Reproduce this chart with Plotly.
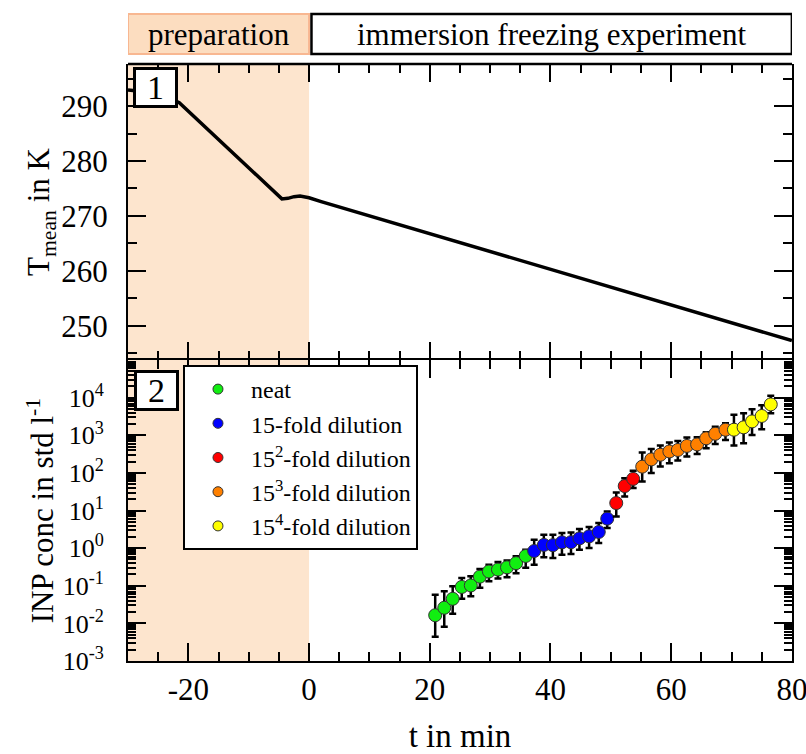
import plotly.graph_objects as go

# ---------------- data ----------------
t_temp = [-30, -28, -26, -24, -22.5, -21.5, -18, -14, -10, -7, -4.5, -3.5, -2.5,
          -1.5, -0.5, 0, 2, 10, 20, 30, 40, 50, 60, 70, 80]
T_mean = [292.9, 292.7, 292.3, 291.7, 291.1, 290.6, 287.0, 282.9, 278.8, 275.7,
          273.1, 273.2, 273.5, 273.6, 273.4, 273.3, 272.6, 270.0, 266.8, 263.5,
          260.3, 257.0, 253.8, 250.5, 247.3]

series_names = ["neat", "15-fold dilution", "15<sup>2</sup>-fold dilution",
                "15<sup>3</sup>-fold dilution", "15<sup>4</sup>-fold dilution"]
series_colors = ["#11ee11", "#0000ff", "#ff0000", "#ff8000", "#ffff00"]

t_neat = [20.9, 22.4, 23.8, 25.3, 26.8, 28.3, 29.8, 31.3, 32.8, 34.3, 35.9]
c_neat = [0.0165, 0.026, 0.045, 0.093, 0.102, 0.175, 0.24, 0.27, 0.31, 0.40, 0.62]
hi_neat = [0.058, 0.071, 0.097, 0.162, 0.179, 0.28, 0.365, 0.43, 0.47, 0.61, 0.91]
lo_neat = [0.0044, 0.0081, 0.018, 0.045, 0.053, 0.088, 0.132, 0.155, 0.168, 0.215, 0.30]

t_d1 = [37.3, 38.9, 40.4, 41.9, 43.4, 44.8, 46.4, 48.0, 49.4]
c_d1 = [0.84, 1.22, 1.2, 1.43, 1.44, 1.82, 2.06, 2.69, 6.1]
hi_d1 = [1.68, 2.28, 2.28, 2.53, 2.62, 3.23, 3.65, 4.66, 9.5]
lo_d1 = [0.365, 0.57, 0.55, 0.67, 0.70, 0.91, 1.01, 1.37, 3.44]

t_d2 = [50.9, 52.3, 53.7]
c_d2 = [15.8, 44.8, 69.5]
hi_d2 = [30.2, 72.8, 114]
lo_d2 = [7.0, 23.7, 39.5]

t_d3 = [55.2, 56.7, 58.2, 59.7, 61.1, 62.6, 64.3, 65.8, 67.3, 69.0]
c_d3 = [147, 229, 305, 373, 408, 523, 574, 834, 1100, 1410]
hi_d3 = [347, 436, 533, 640, 710, 870, 890, 1210, 1700, 2100]
lo_d3 = [59, 99, 148, 182, 214, 272, 321, 455, 590, 755]

t_d4 = [70.4, 72.0, 73.4, 75.0, 76.5]
c_d4 = [1410, 1630, 2350, 3270, 6650]
hi_d4 = [3500, 3860, 4920, 6260, 11300]
lo_d4 = [533, 617, 1025, 1450, 3860]

x_tickvals = [-20, 0, 20, 40, 60, 80]
x_ticktext = ["-20", "0", "20", "40", "60", "80"]
log_tickvals = [1e-3, 1e-2, 1e-1, 1e0, 1e1, 1e2, 1e3, 1e4]
log_ticktext = ["10<sup>-3</sup>", "10<sup>-2</sup>", "10<sup>-1</sup>", "10<sup>0</sup>",
                "10<sup>1</sup>", "10<sup>2</sup>", "10<sup>3</sup>", "10<sup>4</sup>"]

# ---------------- figure ----------------
FONT = "Liberation Serif"
SPLIT = 0.504
XRANGE = [-30, 80.02]
fig = go.Figure()

fig.add_trace(go.Scatter(x=t_temp, y=T_mean, mode="lines", xaxis="x", yaxis="y",
                         line=dict(color="black", width=3.5), showlegend=False))

groups = [(t_neat, c_neat, hi_neat, lo_neat), (t_d1, c_d1, hi_d1, lo_d1),
          (t_d2, c_d2, hi_d2, lo_d2), (t_d3, c_d3, hi_d3, lo_d3),
          (t_d4, c_d4, hi_d4, lo_d4)]
for i, (tt, cc, hh, ll) in enumerate(groups):
    plus = [h - c for h, c in zip(hh, cc)]
    minus = [c - l for c, l in zip(cc, ll)]
    fig.add_trace(go.Scatter(
        x=tt, y=cc, mode="markers", xaxis="x2", yaxis="y2", showlegend=False,
        marker=dict(color=series_colors[i], size=13, line=dict(color="#333333", width=1)),
        error_y=dict(type="data", array=plus, arrayminus=minus, symmetric=False,
                     color="black", thickness=2.5, width=3.5),
    ))
# legend entries (smaller symbols, as in the reference legend)
for i in range(len(series_names)):
    fig.add_trace(go.Scatter(
        x=[None], y=[None], mode="markers", xaxis="x2", yaxis="y2", name=series_names[i],
        marker=dict(color=series_colors[i], size=10, line=dict(color="#333333", width=1)),
    ))

common = dict(linecolor="black", linewidth=2, ticks="inside", tickcolor="black",
              tickwidth=2, showgrid=False, zeroline=False, automargin=False)
xminor = dict(dtick=5, ticks="inside", ticklen=9, tickcolor="black", tickwidth=2,
              showgrid=False)
log_minor_vals = [m * 10.0 ** e for e in range(-3, 5) for m in range(2, 10)]

fig.update_layout(
    xaxis=dict(domain=[0, 1], anchor="y", range=XRANGE, tickvals=x_tickvals,
               showticklabels=False, ticklen=18, minor=xminor, showline=False,
               mirror="allticks", **common),
    yaxis=dict(domain=[SPLIT, 1], anchor="x", range=[243.75, 297.65], dtick=10,
               ticklen=18, showline=True, mirror="ticks", ticklabelstandoff=12,
               minor=dict(dtick=5, ticks="inside", ticklen=9, tickcolor="black",
                          tickwidth=2, showgrid=False),
               tickfont=dict(family=FONT, size=31, color="black"),
               title=dict(text="T<sub>mean</sub> in K",
                          font=dict(family=FONT, size=31, color="black"), standoff=2),
               **common),
    xaxis2=dict(domain=[0, 1], anchor="y2", range=XRANGE, tickvals=x_tickvals,
                ticktext=x_ticktext, ticklen=18, minor=xminor, showline=True,
                mirror="ticks", ticklabeloverflow="allow",
                tickfont=dict(family=FONT, size=31, color="black"),
                title=dict(text="t in min", font=dict(family=FONT, size=33, color="black"),
                           standoff=34),
                **common),
    yaxis2=dict(domain=[0, SPLIT], anchor="x2", type="log", range=[-3, 5],
                tickvals=log_tickvals, ticktext=log_ticktext, ticklen=18,
                showline=True, mirror="ticks", ticklabelstandoff=17,
                minor=dict(tickvals=log_minor_vals, ticks="inside", ticklen=8,
                           tickcolor="black", tickwidth=1.5, showgrid=False),
                tickfont=dict(family=FONT, size=26, color="black"),
                title=dict(text="INP conc in std l<sup>-1</sup>",
                           font=dict(family=FONT, size=31, color="black"), standoff=0),
                **common),
)

shade = "rgb(253,229,206)"
fig.add_shape(type="rect", xref="x", yref="y domain", x0=-30, x1=0, y0=0, y1=1,
              fillcolor=shade, line=dict(width=0), layer="below")
fig.add_shape(type="rect", xref="x2", yref="y2 domain", x0=-30, x1=0, y0=0, y1=1,
              fillcolor=shade, line=dict(width=0), layer="below")
# top frame line of panel 1
fig.add_shape(type="line", xref="paper", yref="paper", x0=0, x1=1, y0=1, y1=1,
              line=dict(color="black", width=2.5))

# banner
fig.add_shape(type="rect", xref="x", yref="paper", x0=-30, x1=0, y0=1.0168, y1=1.0838,
              fillcolor="rgb(252,221,192)", line=dict(color="rgb(248,183,145)", width=2))
fig.add_shape(type="rect", xref="x", yref="paper", x0=0.4, x1=80, y0=1.0168, y1=1.0838,
              fillcolor="white", line=dict(color="black", width=2.5))
fig.add_annotation(text="preparation", xref="x", yref="paper", x=-15, y=1.050,
                   xanchor="center", yanchor="middle", showarrow=False,
                   font=dict(family=FONT, size=31, color="black"))
fig.add_annotation(text="immersion freezing experiment", xref="x", yref="paper", x=40.2,
                   y=1.050, xanchor="center", yanchor="middle", showarrow=False,
                   font=dict(family=FONT, size=31, color="black"))

# panel labels
for lab, px, py in [("1", 0.0407, 0.9606), ("2", 0.0429, 0.453)]:
    fig.add_annotation(text=lab, xref="paper", yref="paper", x=px, y=py,
                       xanchor="center", yanchor="middle",
                       showarrow=False, font=dict(family=FONT, size=34, color="black"),
                       bgcolor="white", bordercolor="black", borderwidth=3,
                       width=39, height=35, borderpad=0)

fig.update_layout(
    width=806, height=754, autosize=False,
    margin=dict(l=128, r=14, t=64, b=93),
    paper_bgcolor="white", plot_bgcolor="white",
    font=dict(family=FONT, color="black"),
    legend=dict(x=0.0828, y=0.4958, xanchor="left", yanchor="top",
                bgcolor="white", bordercolor="black", borderwidth=2,
                font=dict(family=FONT, size=24, color="black"),
                itemwidth=56, tracegroupgap=0, itemsizing="trace"),
)

fig.write_html("out.html")
